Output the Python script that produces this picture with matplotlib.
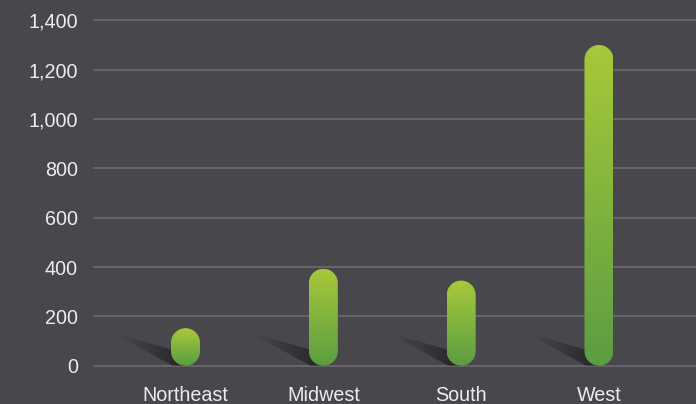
import numpy as np
import matplotlib
matplotlib.use('Agg')
import matplotlib.pyplot as plt
from matplotlib.patches import Polygon
from matplotlib.ticker import FuncFormatter

# dados
regioes = ['Northeast', 'Midwest', 'South', 'West']
valores = [152, 393, 345, 1300]
y_ticks = [0, 200, 400, 600, 800, 1000, 1200, 1400]

BG = '#48474b'
GRID = '#69686c'
TXT = '#ececee'
TOP = '#a7c93a'
BOTTOM = '#5b9d42'

plt.rcParams['font.family'] = ['Liberation Sans', 'DejaVu Sans']

fig = plt.figure(figsize=(6.96, 4.04), dpi=100, facecolor=BG)
ax = fig.add_axes([94 / 696, 38.3 / 404, 602 / 696, 357.7 / 404])
ax.set_facecolor(BG)
ax.set_xlim(-0.664, 3.704)
ax.set_ylim(0, 1450)
for s in ax.spines.values():
    s.set_visible(False)

# linhas de grade
for t in y_ticks:
    ax.axhline(t, color=GRID, lw=1.3, zorder=0, clip_on=False)

ax.set_yticks(y_ticks)
ax.yaxis.set_major_formatter(FuncFormatter(lambda v, p: f'{int(v):,}'))
ax.set_xticks(range(len(regioes)))
ax.set_xticklabels(regioes)
ax.tick_params(axis='both', length=0, colors=TXT, labelsize=14.2)
ax.tick_params(axis='y', pad=11.5)
ax.tick_params(axis='x', pad=14.5)

# escalas pixel -> dados
fig.canvas.draw()
p0 = ax.transData.transform((0, 0))
p1 = ax.transData.transform((1, 100))
px_x = p1[0] - p0[0]          # pixels por categoria
px_y = (p1[1] - p0[1]) / 100  # pixels por unidade

rx = 14.5 / px_x   # meia largura da barra
ry = 14.5 / px_y   # raio da ponta no eixo y

# gradiente das barras
c_top = np.array(matplotlib.colors.to_rgb(TOP))
c_bot = np.array(matplotlib.colors.to_rgb(BOTTOM))
g = np.linspace(0, 1, 256)[:, None]
grad = (c_top * (1 - g) + c_bot * g)[:, None, :]

# sombra: alpha crescente em direcao a barra
sx = np.linspace(0, 1, 200)
alpha = sx ** 1.2 * 0.5
sombra = np.zeros((2, 200, 4))
sombra[..., 3] = alpha

t = np.linspace(0, np.pi, 40)

for i, v in enumerate(valores):
    # sombra diagonal
    pts = [(-73, 33), (-10, 15), (0, 11), (0, 0), (-13, 0)]
    poly = [(i + dx / px_x, dy / px_y) for dx, dy in pts]
    pp = Polygon(poly, closed=True, facecolor='none', edgecolor='none')
    ax.add_patch(pp)
    im = ax.imshow(sombra, extent=(i - 73 / px_x, i, 0, 33 / px_y),
                   aspect='auto', zorder=1, interpolation='bilinear')
    im.set_clip_path(pp)

    # barra arredondada (formato de capsula) com gradiente
    topo = np.column_stack([i + rx * np.cos(t), v - ry + ry * np.sin(t)])
    base = np.column_stack([i - rx * np.cos(t), ry - ry * np.sin(t)])
    caps = Polygon(np.vstack([topo, base]), closed=True,
                   facecolor='none', edgecolor='none', zorder=2)
    ax.add_patch(caps)
    im2 = ax.imshow(grad, extent=(i - rx, i + rx, 0, v),
                    aspect='auto', zorder=2, interpolation='bilinear')
    im2.set_clip_path(caps)

ax.set_xlim(-0.664, 3.704)
ax.set_ylim(0, 1450)

fig.savefig('out.png', dpi=100, facecolor=BG)
